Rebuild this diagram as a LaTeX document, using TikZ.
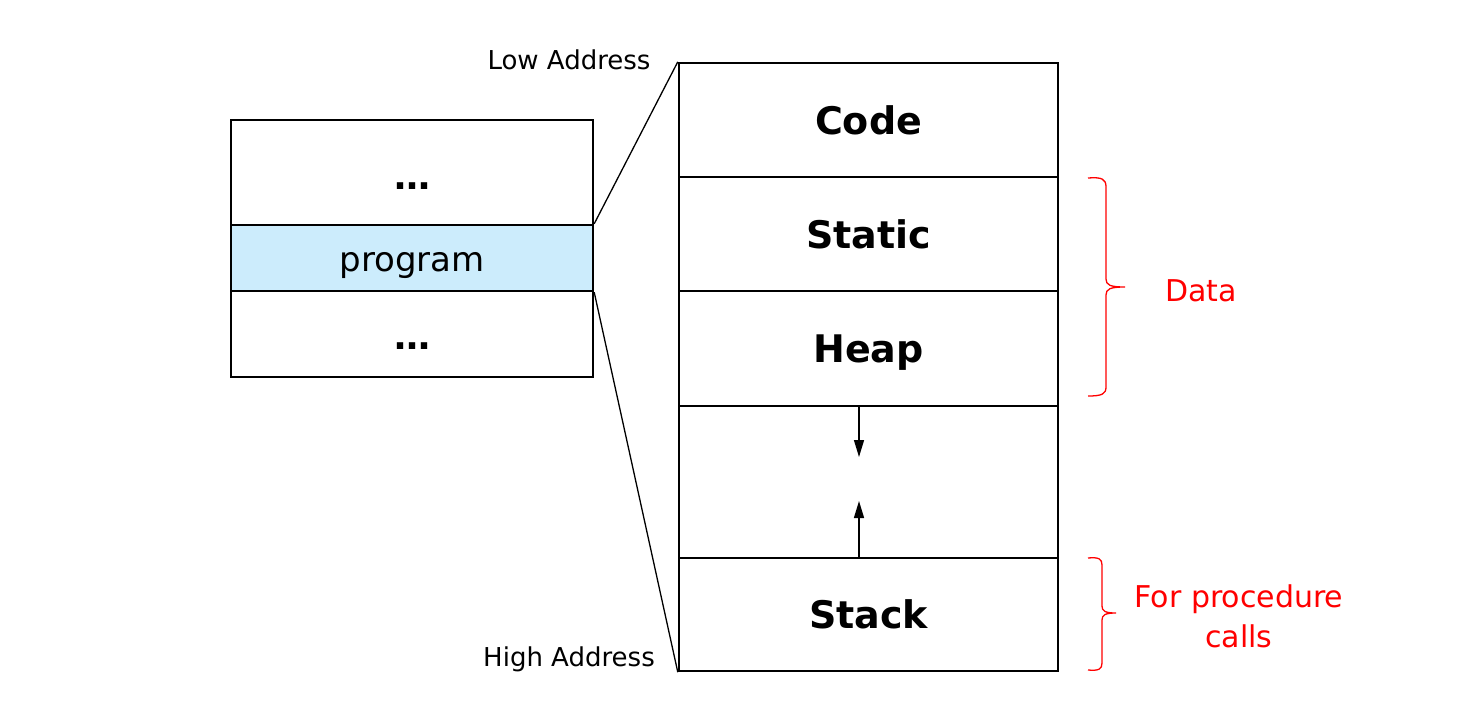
\documentclass[tikz,border=0pt]{standalone}
\usepackage{fontspec}
\setmainfont{DejaVu Sans}
\usetikzlibrary{arrows.meta}
\definecolor{progblue}{RGB}{204,236,252}
\tikzset{
  seg/.style={draw=black, line width=2.4pt, rectangle, inner sep=0pt, minimum width=379pt, text height=28pt, text depth=0pt, font=\fontsize{38}{44}\selectfont\bfseries},
  lseg/.style={draw=black, line width=2.4pt, rectangle, inner sep=0pt, minimum width=362pt, text height=27pt, text depth=0pt, font=\fontsize{34}{40}\selectfont},
  dotstext/.style={font=\fontsize{36}{40}\selectfont\bfseries, inner sep=0pt, anchor=base},
  addr/.style={font=\fontsize{26}{30}\selectfont, inner sep=0pt},
  note/.style={text=red, font=\fontsize{30}{40}\selectfont, inner sep=0pt, align=center},
  zoomline/.style={line width=1.3pt},
  growarrow/.style={line width=1.3pt, -{Triangle[length=17pt,width=10pt]}},
  bracepath/.style={draw=red, line width=1.3pt}
}
\begin{document}
\begin{tikzpicture}[x=1pt,y=-1pt]
\useasboundingbox (0,0) rectangle (1473,717);
% left memory box
\node[lseg, minimum height=105pt] (ltop) at (412,172.5) {};
\node[lseg, minimum height=66pt, fill=progblue] (prog) at (412,258) {program};
\node[lseg, minimum height=86pt] (lbot) at (412,334) {};
\node[dotstext] (dots1) at (412,189) {…};
\node[dotstext] (dots2) at (412,349) {…};
% right memory layout
\node[seg, minimum height=114pt] (code) at (868.5,120) {Code};
\node[seg, minimum height=114pt] (static) at (868.5,234) {Static};
\node[seg, minimum height=115pt] (heap) at (868.5,348.5) {Heap};
\node[seg, minimum height=152pt] (free) at (868.5,482) {};
\node[seg, minimum height=113pt] (stack) at (868.5,614.5) {Stack};
% address labels
\node[addr] (low) at (569,60) {Low Address};
\node[addr] (high) at (569,659) {High Address};
% zoom lines
\draw[zoomline] (prog.north east) -- (code.north west);
\draw[zoomline] (prog.south east) -- (stack.south west);
% growth arrows
\coordinate (heapend) at (859,457);
\coordinate (stackend) at (859,501);
\coordinate (heapstart) at (859,406);
\coordinate (stackstart) at (859,558);
\draw[growarrow] (heapstart) -- (heapend);
\draw[growarrow] (stackstart) -- (stackend);
% braces
\draw[bracepath] (1088,178) .. controls (1102,177) and (1106,179) .. (1106,187)
  -- (1106,279) .. controls (1106,285) and (1110,287) .. (1125,287)
  .. controls (1110,287) and (1106,289) .. (1106,295)
  -- (1106,387) .. controls (1106,394) and (1102,396) .. (1088,396);
\draw[bracepath] (1088,558) .. controls (1099,557) and (1102,559) .. (1102,565)
  -- (1102,606) .. controls (1102,611) and (1105,613) .. (1116,613)
  .. controls (1105,613) and (1102,615) .. (1102,620)
  -- (1102,663) .. controls (1102,669) and (1099,671) .. (1088,670);
\node[note] (data) at (1201,291) {Data};
\node[note] (proc) at (1239,616) {For procedure\\calls};
\end{tikzpicture}
\end{document}
